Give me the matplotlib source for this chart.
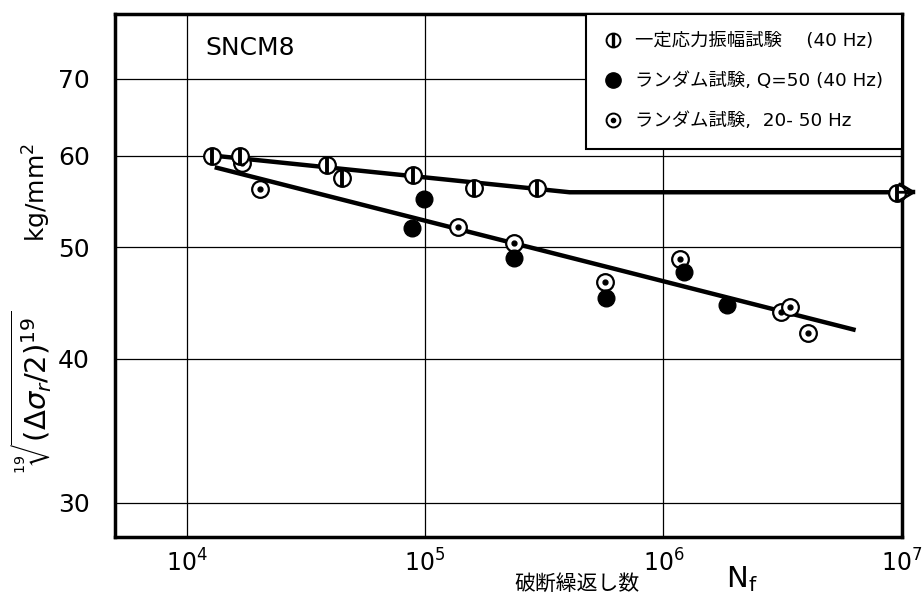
import matplotlib
matplotlib.use('Agg')
import matplotlib.pyplot as plt
from matplotlib.lines import Line2D
from matplotlib.ticker import FixedLocator, FixedFormatter, NullLocator

plt.rcParams['font.family'] = ['DejaVu Sans', 'Noto Sans CJK JP']
plt.rcParams['mathtext.fontset'] = 'dejavusans'

# constant amplitude tests (40 Hz)
const_N = [1.28e4, 1.68e4, 3.9e4, 4.5e4, 8.9e4, 1.6e5, 2.94e5, 9.5e6]
const_S = [60.0, 60.0, 58.9, 57.4, 57.8, 56.3, 56.3, 55.7]

# random tests, Q=50 (40 Hz)
narrow_N = [8.8e4, 9.9e4, 2.37e5, 5.75e5, 1.22e6, 1.85e6]
narrow_S = [52.0, 55.0, 48.9, 45.2, 47.6, 44.5]

# random tests, 20-50 Hz
wide_N = [1.7e4, 2.04e4, 1.38e5, 2.37e5, 5.7e5, 1.17e6, 3.1e6, 3.4e6, 4.05e6]
wide_S = [59.2, 56.2, 52.1, 50.4, 46.6, 48.8, 43.9, 44.4, 42.1]

# fitted lines
upper_N = [1.34e4, 4.04e5, 1.15e7]
upper_S = [60.0, 55.8, 55.8]
lower_N = [1.34e4, 6.27e6]
lower_S = [58.6, 42.4]

y_ticks = [30, 40, 50, 60, 70]
x_ticks = [1e4, 1e5, 1e6, 1e7]

fig = plt.figure(figsize=(9.24, 5.97), dpi=100)
ax = fig.add_axes([0.1245, 0.1005, 0.8515, 0.876])

ax.set_xscale('log')
ax.set_yscale('log')
ax.set_xlim(10**3.7, 1e7)
ax.set_ylim(28.0, 79.7)

ax.yaxis.set_major_locator(FixedLocator(y_ticks))
ax.yaxis.set_major_formatter(FixedFormatter([str(v) for v in y_ticks]))
ax.yaxis.set_minor_locator(NullLocator())
ax.xaxis.set_major_locator(FixedLocator(x_ticks))
ax.xaxis.set_minor_locator(NullLocator())
ax.tick_params(axis='x', length=0, labelsize=17, pad=9)
ax.tick_params(axis='y', length=0, labelsize=18, pad=18)
ax.grid(True, color='black', linewidth=0.9)
for s in ax.spines.values():
    s.set_linewidth(2.5)

# lines
ax.plot(upper_N[:-1] + [1e7], upper_S, color='black', lw=3.2, zorder=3)
ax.plot([1e7, upper_N[-1] * 0.97], upper_S[1:], color='black', lw=3.2, zorder=3, clip_on=False)
arr = ax.annotate('', xy=(upper_N[-1], upper_S[-1]), xytext=(upper_N[-1] * 0.85, upper_S[-1]),
                  arrowprops=dict(arrowstyle='->,head_length=0.5,head_width=0.3', lw=2.0,
                                  color='black', mutation_scale=20, shrinkA=0, shrinkB=0),
                  annotation_clip=False, zorder=8)
arr.arrow_patch.set_clip_on(False)
ax.plot(lower_N, lower_S, color='black', lw=3.2, zorder=3)

ms = 12
# random 20-50 Hz
ax.plot(wide_N, wide_S, 'o', ms=ms, mfc='white', mec='black', mew=1.6, zorder=4)
ax.plot(wide_N, wide_S, 'o', ms=3.5, color='black', zorder=5)
# random Q=50
ax.plot(narrow_N, narrow_S, 'o', ms=ms, color='black', zorder=4)
# constant amplitude
ax.plot(const_N, const_S, 'o', ms=ms, mfc='white', mec='black', mew=1.6, zorder=6, clip_on=False)
ax.plot(const_N, const_S, '|', ms=ms, mec='black', mew=2.8, zorder=7, clip_on=False)

ax.text(0.115, 0.935, 'SNCM8', transform=ax.transAxes, fontsize=18, va='center')

h_const = (Line2D([], [], marker='o', ls='', ms=10, mfc='white', mec='black', mew=1.4),
           Line2D([], [], marker='|', ls='', ms=10, mec='black', mew=2.4))
h_narrow = Line2D([], [], marker='o', ls='', ms=11, color='black')
h_wide = (Line2D([], [], marker='o', ls='', ms=10, mfc='white', mec='black', mew=1.4),
          Line2D([], [], marker='o', ls='', ms=3, color='black'))
leg = ax.legend([h_const, h_narrow, h_wide],
                ['一定応力振幅試験\u3000 (40 Hz)',
                 'ランダム試験, Q=50 (40 Hz)',
                 'ランダム試験,  20- 50 Hz'],
                loc='upper right', borderaxespad=0, fancybox=False, framealpha=1,
                edgecolor='black', fontsize=13.2, handlelength=1.0, handletextpad=0.7,
                labelspacing=1.2, borderpad=1.0)
leg.get_frame().set_linewidth(1.5)
leg.set_zorder(10)

fig.text(0.040, 0.677, 'kg/mm$^2$', rotation=90, fontsize=18, ha='center', va='center')
fig.text(0.034, 0.343, r'$\sqrt[19]{(\Delta\sigma_r/2)^{19}}$', rotation=90, fontsize=21,
         ha='center', va='center')
fig.text(0.624, 0.022, '破断繰返し数', fontsize=15, ha='center', va='center')
fig.text(0.803, 0.030, r'$\mathrm{N_f}$', fontsize=21, ha='center', va='center')

fig.savefig('out.png', dpi=100)
